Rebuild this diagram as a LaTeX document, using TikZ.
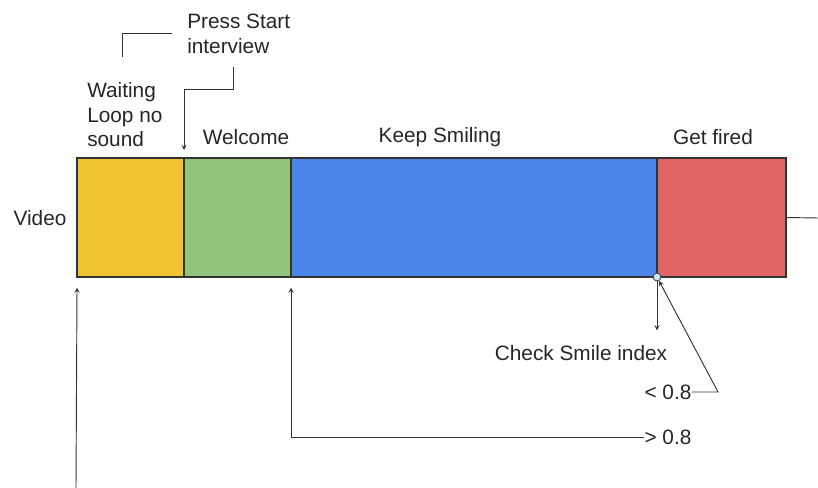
\documentclass[tikz,border=0pt]{standalone}
\usepackage{fontspec}
\setmainfont{Liberation Sans}
\usetikzlibrary{positioning}
\definecolor{waitcol}{HTML}{F1C232}
\definecolor{welcol}{HTML}{93C47D}
\definecolor{smilecol}{HTML}{4A86E8}
\definecolor{firedcol}{HTML}{E06666}
\definecolor{dotcol}{HTML}{CFE2F3}
\definecolor{inkcol}{HTML}{333333}
\tikzset{
  seg/.style={draw=inkcol, line width=0.8pt, anchor=north west, inner sep=0pt,
    outer sep=0pt, minimum height=89.25pt},
  lbl/.style={inner sep=0pt, font=\fontsize{15.6}{18.4}\selectfont, text=black!85},
  wire/.style={draw=inkcol, line width=0.7pt},
  >=stealth
}
\begin{document}
\begin{tikzpicture}[x=0.75pt,y=-0.75pt]
    \useasboundingbox (0,0) rectangle (818,488);
    %% video segments
    \node[seg, fill=waitcol, minimum width=80.25pt] (wait) at (77,158) {};
    \node[seg, fill=welcol, minimum width=80.25pt] (welcome) at (wait.north east) {};
    \node[seg, fill=smilecol, minimum width=274.5pt] (smile) at (welcome.north east) {};
    \node[seg, fill=firedcol, minimum width=96.75pt] (fired) at (smile.north east) {};
    \node[lbl] (video) at (40,218) {Video};
    %% segment titles
    \node[lbl, align=left, anchor=west] (waittxt) at (87,115) {Waiting\\Loop no\\sound};
    \node[lbl] (weltxt) at (246,137) {Welcome};
    \node[lbl] (smiletxt) at (440,137) {Keep Smiling};
    \node[lbl] (firedtxt) at (713,137) {Get fired};
    \node[lbl, align=left, anchor=west] (presstxt) at (187,34) {Press Start\\interview};
    %% press start
    \coordinate (pressend) at (122,57);
    \draw[wire] (pressend) |- (172,33);
    \draw[wire,->] (233,67) |- (184,89) -- ([yshift=6pt]welcome.north west);
    %% continue to the right
    \coordinate (out) at (818,218);
    \draw[wire] (fired.east) -- (out);
    %% smile check
    \node[circle, draw=inkcol, fill=dotcol, line width=0.6pt, inner sep=0pt,
      minimum size=6pt] (check) at (smile.south east) {};
    \node[lbl] (checktxt) at (581,353) {Check Smile index};
    \node[lbl] (lowtxt) at (668,392) {< 0.8};
    \node[lbl] (hightxt) at (668,437) {> 0.8};
    \draw[wire,->] (check) -- ([yshift=11pt]checktxt.north -| check);
    \draw[wire,->] (lowtxt.east) -- (718,392) -- (check);
    \draw[wire,->] (hightxt.west) -| ([yshift=-8pt]smile.south west);
    %% start
    \coordinate (start) at (76,488);
    \draw[wire,->] (start) -- ([yshift=-8pt]wait.south west);
\end{tikzpicture}
\end{document}
